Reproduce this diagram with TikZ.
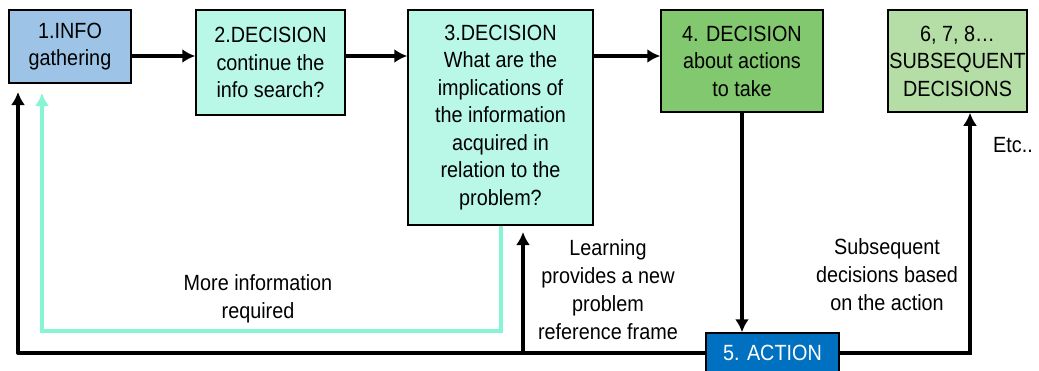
\documentclass[tikz,border=0pt]{standalone}
\usepackage{fontspec}
\setmainfont[FakeStretch=0.9]{Liberation Sans}
\usetikzlibrary{arrows.meta}

\definecolor{infoblue}{RGB}{157,195,230}
\definecolor{mintbox}{RGB}{185,248,230}
\definecolor{mintline}{RGB}{134,245,212}
\definecolor{midgreen}{RGB}{130,200,110}
\definecolor{palegreen}{RGB}{180,222,165}
\definecolor{actionblue}{RGB}{0,112,192}

\begin{document}
\begin{tikzpicture}[x=1pt, y=-1pt,
  stage/.style={draw=black, line width=1.5pt, align=center, inner sep=0pt,
    font=\fontsize{22}{27.5}\selectfont},
  label/.style={align=center, font=\fontsize{22}{28}\selectfont},
  conn/.style={line width=4pt, -{Latex[length=13pt,width=14pt]}}]

\useasboundingbox (0,0) rectangle (1039,370);

% Decision boxes (top row)
\node[stage, fill=infoblue, minimum width=122pt, minimum height=73pt] (info) at (70,46.5) {1.INFO\\gathering};
\node[stage, fill=mintbox, minimum width=149pt, minimum height=105pt] (search) at (270.5,62.5) {2.DECISION\\continue the\\info search?};
\node[stage, fill=mintbox, minimum width=185pt, minimum height=215pt] (implic) at (500.5,117.5) {3.DECISION\\What are the\\implications of\\the information\\acquired in\\relation to the\\problem?};
\node[stage, fill=midgreen, minimum width=162pt, minimum height=102pt] (decide) at (742,61) {4. DECISION\\about actions\\to take};
\node[stage, fill=palegreen, minimum width=139pt, minimum height=102pt] (subseq) at (957.5,61) {6, 7, 8\dots\\SUBSEQUENT\\DECISIONS};

% Action box (cut by the lower edge)
\node[stage, fill=actionblue, text=white, minimum width=133pt, minimum height=40pt] (action) at (772.5,353) {5. ACTION};

% Helper points
\coordinate (row) at (0,56);
\coordinate (back1) at (18,92);
\coordinate (back2) at (42,93);
\coordinate (mintlow) at (0,331);
\coordinate (learn) at (523,232);
\coordinate (rise) at (970,0);

% Forward arrows
\draw[conn] (info.east |- row) -- (search.west |- row);
\draw[conn] (search.east |- row) -- (implic.west |- row);
\draw[conn] (implic.east |- row) -- (decide.west |- row);
\draw[conn] (decide.south) -- (decide.south |- action.north);
\draw[conn] (action.east) -| (rise |- subseq.south);

% Feedback loops
\draw[conn, mintline] (implic.south) |- (mintlow -| back2) -- (back2);
\draw[conn, line join=round] (action.west) -| (back1);
\draw[conn] (learn |- action.west) -- (learn);

% Labels
\node[label] (moreinfo) at (258,299) {More information\\required};
\node[label] (learning) at (608,290) {Learning\\provides a new\\problem\\reference frame};
\node[label] (based) at (887,275) {Subsequent\\decisions based\\on the action};
\node[label] (etc) at (1013,145) {Etc..};

\end{tikzpicture}
\end{document}
